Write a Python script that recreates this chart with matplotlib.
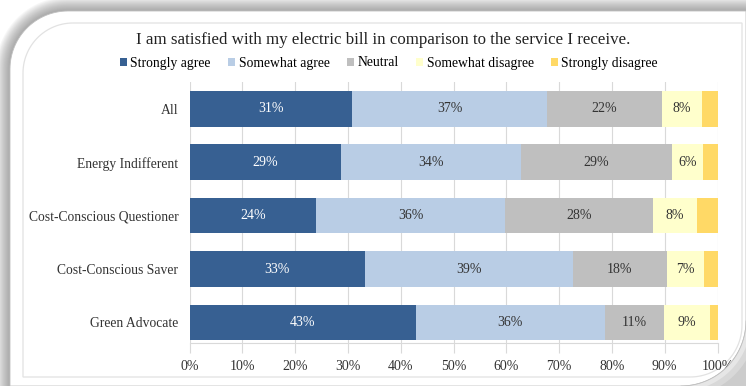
import numpy as np
import matplotlib.pyplot as plt
from matplotlib.patches import Polygon

# data (percent of respondents)
categories = ['All', 'Energy Indifferent', 'Cost-Conscious Questioner',
              'Cost-Conscious Saver', 'Green Advocate']
series_names = ['Strongly agree', 'Somewhat agree', 'Neutral',
                'Somewhat disagree', 'Strongly disagree']
strongly_agree = [30.8, 28.6, 24.0, 33.2, 42.9]
somewhat_agree = [36.9, 34.2, 35.8, 39.4, 35.7]
neutral = [21.7, 28.6, 28.0, 17.8, 11.3]
somewhat_disagree = [7.7, 5.9, 8.3, 7.1, 8.7]
strongly_disagree = [2.9, 2.7, 3.9, 2.5, 1.4]
x_ticks = [0, 10, 20, 30, 40, 50, 60, 70, 80, 90, 100]

series = [strongly_agree, somewhat_agree, neutral, somewhat_disagree, strongly_disagree]
colors = ['#376092', '#b9cde5', '#bfbfbf', '#ffffcc', '#ffd966']
text_colors = ['white', '#333333', '#333333', '#333333', None]

plt.rcParams['font.family'] = ['Liberation Serif', 'DejaVu Serif']

W, H = 746, 386
fig = plt.figure(figsize=(W / 100, H / 100), dpi=100)
fig.patch.set_facecolor('white')


def card_outline(x0, y0, x1, y1, r_tl, r_br, grow=0):
    # rectangle in pixel coords (y down) with rounded top-left and bottom-right corners
    x0, y0, x1, y1 = x0 - grow, y0 - grow, x1 + grow, y1 + grow
    r_tl, r_br = r_tl + grow, r_br + grow
    t = np.linspace(0, np.pi / 2, 30)
    tl = np.column_stack([x0 + r_tl - r_tl * np.cos(t), y0 + r_tl - r_tl * np.sin(t)])
    br = np.column_stack([x1 - r_br + r_br * np.cos(t), y1 - r_br + r_br * np.sin(t)])
    pts = np.vstack([tl, [[x1, y0]], br, [[x0, y1]]])
    return pts


# background: shadow + card in pixel space
bg = fig.add_axes([0, 0, 1, 1])
bg.set_xlim(0, W)
bg.set_ylim(H, 0)
bg.axis('off')
bg.set_zorder(0)
for g in range(14, 0, -1):
    bg.add_patch(Polygon(card_outline(10, 11, 746, 386, 58, 65, grow=g),
                         facecolor='#6a6a6a', edgecolor='none', alpha=0.05))
card = Polygon(card_outline(10, 11, 746, 386, 58, 65), facecolor='white',
               edgecolor='#c0c0c0', linewidth=0.6)
bg.add_patch(card)
bg.add_patch(Polygon(card_outline(23, 23, 742, 377, 50, 52), facecolor='none',
                     edgecolor='#e2e2e2', linewidth=0.9))

ax = fig.add_axes([189.5 / W, 1 - 343 / H, 528 / W, 261 / H])
ax.set_zorder(2)
ax.patch.set_alpha(0)

ypos = list(range(len(categories)))
left = [0.0] * len(categories)
for vals, name, c, tc in zip(series, series_names, colors, text_colors):
    ax.barh(ypos, vals, left=left, height=0.67, color=c, label=name, zorder=3)
    if tc is not None:
        for y, l, v in zip(ypos, left, vals):
            ax.text(l + v / 2, y, f'{round(v)}%', ha='center', va='center',
                    color=tc, fontsize=10, zorder=4)
    left = [l + v for l, v in zip(left, vals)]

ax.set_xlim(0, 100)
ax.set_ylim(4.385, -0.5)
ax.set_xticks(x_ticks)
ax.set_xticklabels([f'{t}%' for t in x_ticks])
ax.set_yticks(ypos)
ax.set_yticklabels(categories)
ax.grid(axis='x', color='#d9d9d9', linewidth=0.8, zorder=0)
ax.set_axisbelow(True)
for s in ['top', 'right', 'left']:
    ax.spines[s].set_visible(False)
ax.spines['bottom'].set_color('#d9d9d9')
ax.tick_params(axis='x', colors='#d9d9d9', length=7, labelcolor='#333333',
               labelsize=10, pad=5)
ax.tick_params(axis='y', length=0, labelcolor='#333333', labelsize=9.8, pad=8)

fig.text(383 / W, 1 - 40 / H,
         'I am satisfied with my electric bill in comparison to the service I receive.',
         ha='center', va='center', fontsize=12.2, color='#222222', zorder=5)

handles, labels = ax.get_legend_handles_labels()
fig.legend(handles, labels, loc='center', bbox_to_anchor=(389 / W, 1 - 63 / H), ncol=5,
           frameon=False, fontsize=9.8, handlelength=0.5, handleheight=0.5,
           handletextpad=0.25, columnspacing=1.3)

# shadow outside the card's bottom-right corner, drawn on top so it cuts the "100%" label
ov = fig.add_axes([0, 0, 1, 1])
ov.set_xlim(0, W)
ov.set_ylim(H, 0)
ov.axis('off')
ov.set_zorder(10)
ov.patch.set_alpha(0)
t = np.linspace(0, np.pi / 2, 40)
for r, c in [(65, '#e6e6e6'), (70, '#d8d8d8'), (76, '#cccccc')]:
    arc = np.column_stack([681 + r * np.cos(t), 321 + r * np.sin(t)])
    ov.add_patch(Polygon(np.vstack([arc, [[W + 20, H + 20]]]), facecolor=c,
                         edgecolor='none'))
arc = np.column_stack([681 + 65 * np.cos(t), 321 + 65 * np.sin(t)])
ov.plot(arc[:, 0], arc[:, 1], color='#c0c0c0', linewidth=0.6)

fig.savefig('out.png', dpi=100)
